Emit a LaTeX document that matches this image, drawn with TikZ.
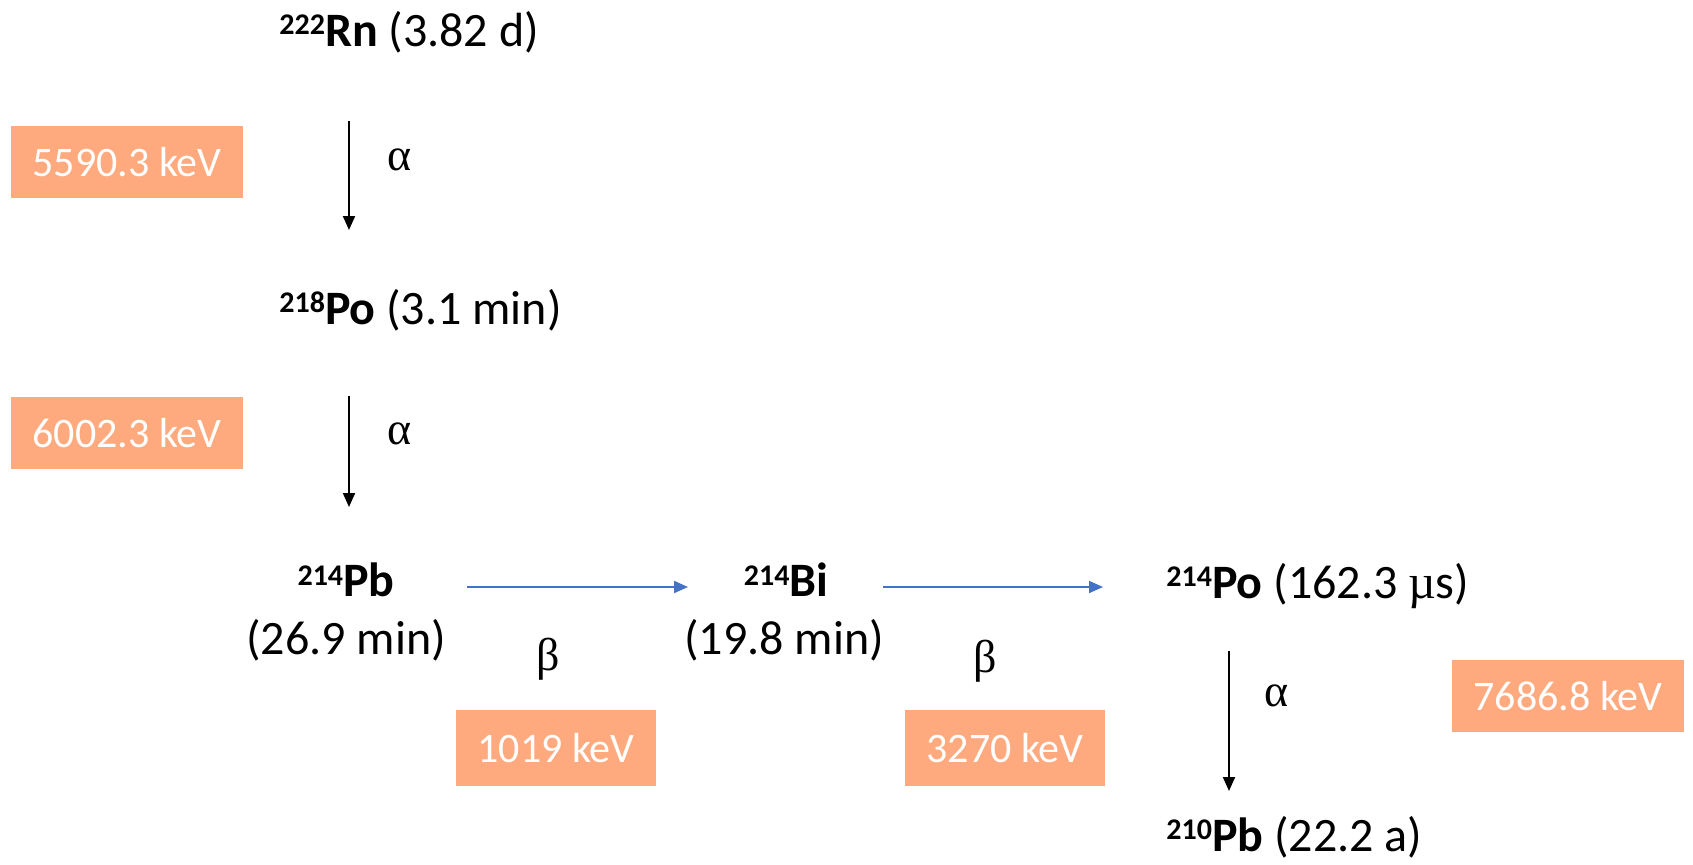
\documentclass[tikz,border=0pt]{standalone}
\usepackage{fontspec}
\setmainfont{Carlito}
\newfontfamily\grk{Liberation Serif}
\usetikzlibrary{arrows.meta}
\definecolor{boxfill}{HTML}{FFAA7E}
\definecolor{betablue}{HTML}{4472C4}
\newcommand{\iso}[2]{\textbf{{\fontsize{15}{15}\selectfont\raisebox{0.8ex}{#1}}#2}}
\tikzset{
  nuc/.style={font=\fontsize{24}{28}\selectfont, inner sep=0pt, text=black},
  grklab/.style={font=\fontsize{23}{26}\selectfont\grk, inner sep=0pt},
  ebox/.style={fill=boxfill, text=white, font=\fontsize{21}{25}\selectfont, inner sep=0pt, minimum height=36pt},
  aarrow/.style={draw=black, line width=1pt, -{Triangle[length=7pt,width=6pt]}},
  barrow/.style={draw=betablue, line width=1pt, -{Triangle[length=7pt,width=6pt]}}
}
\begin{document}
\begin{tikzpicture}[x=0.5pt,y=-0.5pt]
\useasboundingbox (0,0) rectangle (1693,864);
% nuclides
\node[nuc, anchor=west] (rn) at (279,32) {\iso{222}{Rn} (3.82 d)};
\node[nuc, anchor=west] (po218) at (279,310) {\iso{218}{Po} (3.1 min)};
\node[nuc] (pb214) at (346,580) {\iso{214}{Pb}};
\node[nuc] (pb214t) at (346,640) {(26.9 min)};
\node[nuc] (bi214) at (786,580) {\iso{214}{Bi}};
\node[nuc] (bi214t) at (784,640) {(19.8 min)};
\node[nuc, anchor=west] (po214) at (1166,586) {\iso{214}{Po} (162.3 {\grk µ}s)};
\node[nuc, anchor=west] (pb210) at (1166,837) {\iso{210}{Pb} (22.2 a)};
% arrow end points
\coordinate (a1s) at (349,121); \coordinate (a1e) at (349,230);
\coordinate (a2s) at (349,396); \coordinate (a2e) at (349,507);
\coordinate (a3s) at (1229,651); \coordinate (a3e) at (1229,791);
\coordinate (b1s) at (467,587); \coordinate (b1e) at (688,587);
\coordinate (b2s) at (883,587); \coordinate (b2e) at (1103,587);
% arrows
\draw[aarrow] (a1s) -- (a1e);
\draw[aarrow] (a2s) -- (a2e);
\draw[aarrow] (a3s) -- (a3e);
\draw[barrow] (b1s) -- (b1e);
\draw[barrow] (b2s) -- (b2e);
% greek labels
\node[grklab] (al1) at (400,160) {α};
\node[grklab] (al2) at (400,434) {α};
\node[grklab] (be1) at (548,659) {β};
\node[grklab] (be2) at (985,661) {β};
\node[grklab] (al3) at (1277,696) {α};
% energy boxes
\node[ebox, minimum width=116pt] (e1) at (127,162) {5590.3 keV};
\node[ebox, minimum width=116pt] (e2) at (127,433) {6002.3 keV};
\node[ebox, minimum width=100pt, minimum height=38pt] (e3) at (556,748) {1019 keV};
\node[ebox, minimum width=100pt, minimum height=38pt] (e4) at (1005,748) {3270 keV};
\node[ebox, minimum width=116pt] (e5) at (1568,696) {7686.8 keV};
\end{tikzpicture}
\end{document}
